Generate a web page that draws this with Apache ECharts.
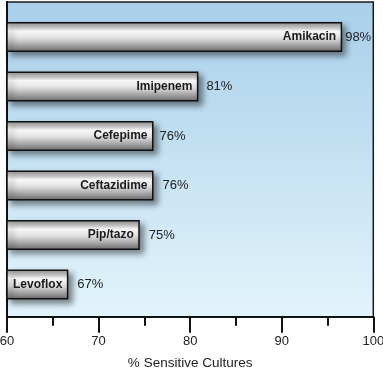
<!DOCTYPE html>
<html><head><meta charset="utf-8">
<script src="https://cdn.jsdelivr.net/npm/echarts@6/dist/echarts.min.js"></script>
<style>html,body{margin:0;padding:0;background:#fff}#c{width:383px;height:369px}</style>
</head><body><div id="c"></div>
<script>
const categories = ["Amikacin","Imipenem","Cefepime","Ceftazidime","Pip/tazo","Levoflox"];
const barValues = [96.6, 80.9, 76.0, 76.0, 74.5, 66.7];
const pctLabels = ["98%","81%","76%","76%","75%","67%"];
const xTicks = [60, 70, 80, 90, 100];

const labelGap = [3, 8, 6, 9, 9, 9];
const font = '"Liberation Sans", Arial, Helvetica, sans-serif';

const chart = echarts.init(document.getElementById('c'), null, {renderer:'canvas'});
const barGrad = new echarts.graphic.LinearGradient(0,0,0,1,[
  {offset:0, color:'#8e8e8e'},
  {offset:0.3, color:'#ffffff'},
  {offset:0.55, color:'#dcdcdc'},
  {offset:1, color:'#6a6a6a'}
]);
chart.setOption({
  animation:false,
  grid:[
    {left:7, right:9.7, top:12.25, bottom:59.75, outerBoundsMode:'none', containLabel:false},
    {left:7, right:9.7, top:2, bottom:52.3, show:true, outerBoundsMode:'none', containLabel:false,
     backgroundColor:new echarts.graphic.LinearGradient(0,0,0,1,[
       {offset:0,color:'#a9cfea'},{offset:1,color:'#e2f4fb'}]),
     borderColor:'#1a1a1a', borderWidth:1.5}
  ],
  xAxis:[
    {gridIndex:0, type:'value', min:xTicks[0], max:xTicks[xTicks.length-1], show:false},
    {gridIndex:1, type:'value', min:xTicks[0], max:xTicks[xTicks.length-1], interval:10,
     axisLine:{show:true, lineStyle:{color:'#111', width:2}},
     axisTick:{show:true, length:16, lineStyle:{color:'#111', width:2}},
     minorTick:{show:true, splitNumber:2, length:9, lineStyle:{color:'#111', width:2}},
     splitLine:{show:false},
     axisLabel:{margin:18, fontSize:13, color:'#222', fontFamily:font, hideOverlap:false},
     name:'% Sensitive Cultures', nameLocation:'middle', nameGap:40, nameMoveOverlap:false,
     nameTextStyle:{fontSize:13.5, color:'#222', fontFamily:font}}
  ],
  yAxis:[
    {gridIndex:0, type:'category', data:categories, inverse:true, show:false},
    {gridIndex:1, type:'value', min:0, max:1,
     axisLine:{show:true, lineStyle:{color:'#111', width:2}},
     axisTick:{show:false}, axisLabel:{show:false}, splitLine:{show:false}}
  ],
  series:[
    {type:'bar', xAxisIndex:0, yAxisIndex:0, barWidth:30, z:3,
     data:barValues,
     itemStyle:{color:barGrad, borderColor:'#111', borderWidth:1.5,
       shadowColor:'rgba(0,0,0,0.45)', shadowBlur:6, shadowOffsetX:4, shadowOffsetY:4},
     label:{show:true, position:'insideRight', distance:6, formatter:'{b}',
       fontWeight:'bold', fontSize:12, color:'#1a1a1a', fontFamily:font}},
    {type:'bar', xAxisIndex:0, yAxisIndex:0, barWidth:30, barGap:'-100%', z:4, silent:true,
     data:barValues.map((v,i)=>({value:v,
        label:{show:true, position:'right', distance:labelGap[i], formatter:pctLabels[i],
          fontSize:13, color:'#222', fontFamily:font}})),
     itemStyle:{color:'rgba(0,0,0,0)'}}
  ]
});
</script></body></html>
